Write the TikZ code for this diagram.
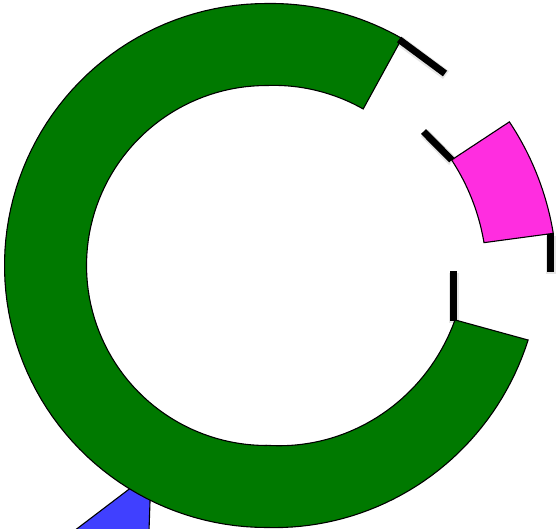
\documentclass[tikz,border=0pt]{standalone}
\usetikzlibrary{calc}
\definecolor{ringgreen}{RGB}{0,121,0}
\definecolor{ringmag}{RGB}{255,45,224}
\definecolor{ringblue}{RGB}{64,64,255}
\tikzset{
  seg/.style={draw=black, line width=1.1pt, line join=miter},
  tick/.style={draw=black, line width=7pt, line cap=butt},
  tickshadow/.style={draw=black, line width=10pt, line cap=butt, opacity=0.10},
}
\begin{document}
\begin{tikzpicture}[x=1pt,y=-1pt]
\useasboundingbox (0,0) rectangle (557,528);
\clip (0,0) rectangle (557,528);
% blue feature (partly hidden behind the green ring)
\filldraw[seg, fill=ringblue] (74,531) -- (151,472.5) -- (149,531) -- cycle;
% green ring sector
\filldraw[seg, fill=ringgreen]
  plot[domain=59.2:90, samples=20, variable=\t] ({266.5+(264.4-2.4*(\t-59.2)/30.8)*cos(\t)},{265.5-(264.4-2.4*(\t-59.2)/30.8)*sin(\t)})
  -- plot[domain=90:270, samples=80, variable=\t] ({266.5+262*cos(\t)},{265.5-262*sin(\t)})
  -- plot[domain=270:344.1, samples=40, variable=\t] ({266.5+(262+10*(\t-270)/74.1)*cos(\t)},{265.5-(262+10*(\t-270)/74.1)*sin(\t)})
  -- plot[domain=343.9:270, samples=40, variable=\t] ({266.5+(179.8+16.4*(\t-270)/73.9)*cos(\t)},{265.5-(179.8+16.4*(\t-270)/73.9)*sin(\t)})
  -- plot[domain=270:90, samples=80, variable=\t] ({266.5+180*cos(\t)},{265.5-180*sin(\t)})
  -- plot[domain=90:58.3, samples=20, variable=\t] ({266.5+(180+4*(90-\t)/31.7)*cos(\t)},{265.5-(180+4*(90-\t)/31.7)*sin(\t)})
  -- cycle;
% magenta ring sector
\filldraw[seg, fill=ringmag]
  plot[domain=6.4:30.6, samples=20, variable=\t] ({266.5+(288.6-6.4*(\t-6.4)/24.2)*cos(\t)},{265.5-(288.6-6.4*(\t-6.4)/24.2)*sin(\t)})
  -- plot[domain=29.7:6.0, samples=20, variable=\t] ({266.5+(218.7-5.6*(\t-6)/23.7)*cos(\t)},{265.5-(218.7-5.6*(\t-6)/23.7)*sin(\t)})
  -- cycle;
% tick marks
\coordinate (t1a) at (399,39.5);   \coordinate (t1b) at (445,73.5);
\coordinate (t2a) at (423.5,131.5); \coordinate (t2b) at (451.7,160);
\coordinate (t3a) at (550,234);    \coordinate (t3b) at (550,272);
\coordinate (t4a) at (453,271);    \coordinate (t4b) at (453,321);
\foreach \a/\b in {t1a/t1b, t2a/t2b, t3a/t3b, t4a/t4b} {
  \draw[tickshadow] ($(\a)+(1,1.5)$) -- ($(\b)+(1,1.5)$);
  \draw[tick] (\a) -- (\b);
}
\end{tikzpicture}
\end{document}
